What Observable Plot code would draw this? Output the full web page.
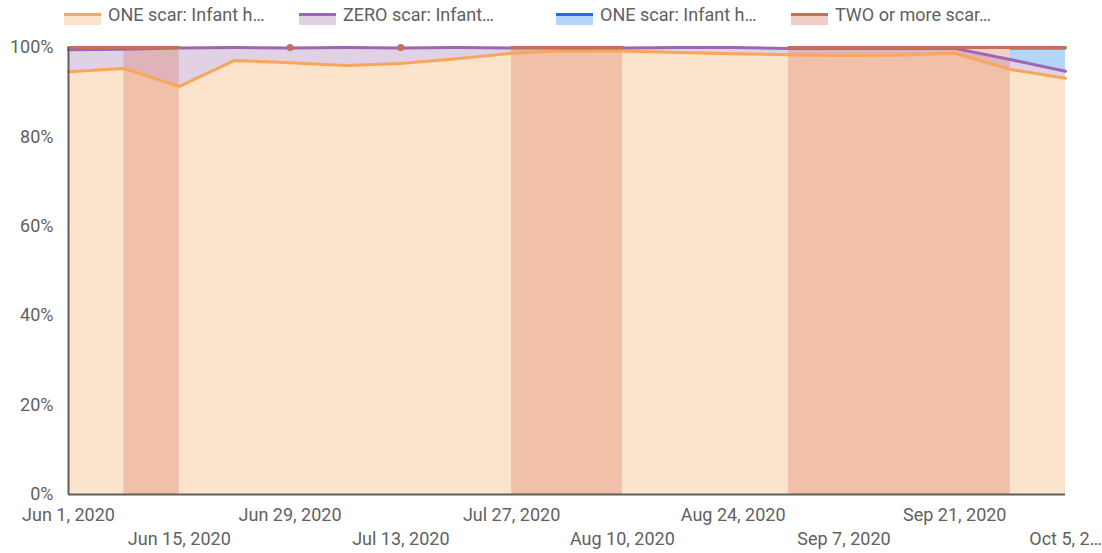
<!DOCTYPE html>
<html><head><meta charset="utf-8">
<script src="https://cdn.jsdelivr.net/npm/d3@7"></script>
<script src="https://cdn.jsdelivr.net/npm/@observablehq/plot@0.6"></script>
<style>
body{margin:0;background:#fff;font-family:Roboto, "Noto Sans", sans-serif;}
#wrap{position:relative;width:1102px;height:553px;overflow:hidden;}
#legend{position:absolute;top:0;left:0;width:1102px;height:30px;}
.sw{position:absolute;top:13px;width:37px;height:9px;}
.lt{position:absolute;top:3px;font-size:18px;color:#616161;white-space:nowrap;line-height:24px;}
</style></head>
<body>
<div id="wrap"><div id="chart"></div><div id="legend"></div></div>
<script>
// ---- data (weekly) ----
const dates = ["2020-06-01","2020-06-08","2020-06-15","2020-06-22","2020-06-29","2020-07-06","2020-07-13","2020-07-20","2020-07-27","2020-08-03","2020-08-10","2020-08-17","2020-08-24","2020-08-31","2020-09-07","2020-09-14","2020-09-21","2020-09-28","2020-10-05"];
const oneScarA = [94.6, 95.3, 91.3, 97.1, 96.6, 96.0, 96.4, 97.5, 98.7, 99.3, 99.2, 98.9, 98.6, 98.4, 98.2, 98.3, 98.7, 95.1, 93.1];
const zeroScar = [4.9, 4.3, 8.6, 2.9, 3.3, 4.0, 3.5, 2.5, 1.2, 0.6, 0.7, 1.1, 1.4, 1.4, 1.6, 1.5, 1.1, 2.2, 1.6];
const oneScarB = [null, null, null, null, null, null, null, null, null, null, null, null, null, null, null, null, null, 2.5, 5.1];
const twoPlus = [0.5, 0.4, 0.1, null, 0.1, null, 0.1, null, 0.1, 0.1, 0.1, null, null, 0.2, 0.2, 0.2, 0.2, 0.2, 0.2];
const twoBandStart = ["2020-06-08","2020-07-27","2020-08-31"];
const twoBandEnd = ["2020-06-15","2020-08-10","2020-09-28"];
const seriesNames = ["ONE scar: Infant h…","ZERO scar: Infant…","ONE scar: Infant h…","TWO or more scar…"];
const lineColors = ["#F9A55A","#9B67AF","#1A6FE0","#C56F59"];
const fillColors = ["#FCE4CC","#E0D1E5","#B3D5FA","#F2CFC6"];
const yTicks = [0, 20, 40, 60, 80, 100];
const xTickDates = ["2020-06-01","2020-06-15","2020-06-29","2020-07-13","2020-07-27","2020-08-10","2020-08-24","2020-09-07","2020-09-21","2020-10-05"];
const xTickLabels = ["Jun 1, 2020","Jun 15, 2020","Jun 29, 2020","Jul 13, 2020","Jul 27, 2020","Aug 10, 2020","Aug 24, 2020","Sep 7, 2020","Sep 21, 2020","Oct 5, 2…"];

// ---- build table (100% stacked) ----
const rows = dates.map((d, i) => {
  const a = oneScarA[i], z = zeroScar[i], b = oneScarB[i], r = twoPlus[i];
  const tot = a + z + (b ?? 0) + (r ?? 0);
  const k = 100 / tot;
  const t1 = a * k, t2 = (a + z) * k, t3 = (a + z + (b ?? 0)) * k, t4 = 100;
  return {date: new Date(d), t1, t2, t3: b == null ? NaN : t3, t3base: t3,
          t4: r == null ? NaN : t4, hasR: r != null, i};
});
const isolatedRed = rows.filter((d, i) => d.hasR && !(rows[i-1]?.hasR) && !(rows[i+1]?.hasR));
const bands = twoBandStart.map((s, i) => ({x1: new Date(s), x2: new Date(twoBandEnd[i])}));
const xTicks = xTickDates.map((d, i) => ({date: new Date(d), label: xTickLabels[i], row: i % 2}));

const chart = Plot.plot({
  width: 1102, height: 553,
  marginLeft: 68, marginRight: 37, marginTop: 47, marginBottom: 59,
  style: {fontFamily: "Roboto, sans-serif", fontSize: "18px", background: "#fff"},
  x: {type: "utc", domain: [new Date(dates[0]), new Date(dates[dates.length-1])], axis: null},
  y: {domain: [0, 100], axis: null},
  marks: [
    Plot.areaY(rows, {x: "date", y1: 0, y2: "t1", fill: fillColors[0], curve: "linear"}),
    Plot.areaY(rows, {x: "date", y1: "t1", y2: "t2", fill: fillColors[1], curve: "linear"}),
    Plot.areaY(rows, {x: "date", y1: "t2", y2: "t3", fill: fillColors[2], curve: "linear"}),
    Plot.areaY(rows, {x: "date", y1: d => d.hasR ? d.t3base : NaN, y2: "t4", fill: fillColors[3], curve: "linear"}),
    Plot.rect(bands, {x1: "x1", x2: "x2", y1: 0, y2: 100, fill: "rgb(222,137,117)", fillOpacity: 0.4}),
    Plot.lineY(rows, {x: "date", y: "t1", stroke: lineColors[0], strokeWidth: 3}),
    Plot.lineY(rows, {x: "date", y: "t2", stroke: lineColors[1], strokeWidth: 3}),
    Plot.lineY(rows, {x: "date", y: "t3", stroke: lineColors[2], strokeWidth: 2}),
    Plot.lineY(rows, {x: "date", y: "t4", stroke: lineColors[3], strokeWidth: 3}),
    Plot.dot(isolatedRed, {x: "date", y: "t4", r: 3.5, fill: lineColors[3], stroke: "none"}),
    Plot.ruleX([new Date(dates[0])], {y1: 0, y2: 100, stroke: "#5f5f5f", strokeWidth: 2}),
    Plot.ruleY([0], {stroke: "#5f5f5f", strokeWidth: 2}),
    Plot.axisY({ticks: yTicks, tickSize: 0, tickPadding: 15, tickFormat: d => d + "%", fontSize: 18, fill: "#616161", textAnchor: "end"}),
    Plot.text(xTicks.filter(d => d.row === 0), {x: "date", text: "label", frameAnchor: "bottom", dy: 26, fontSize: 18, fill: "#616161"}),
    Plot.text(xTicks.filter(d => d.row === 1), {x: "date", text: "label", frameAnchor: "bottom", dy: 50, fontSize: 18, fill: "#616161"})
  ]
});
document.getElementById("chart").appendChild(chart);

// ---- legend ----
const legendX = [64, 299, 556, 791];
const leg = document.getElementById("legend");
seriesNames.forEach((name, i) => {
  const sw = document.createElement("div");
  sw.className = "sw";
  sw.style.left = legendX[i] + "px";
  sw.style.borderTop = "3px solid " + lineColors[i];
  sw.style.background = fillColors[i];
  leg.appendChild(sw);
  const t = document.createElement("div");
  t.className = "lt";
  t.style.left = (legendX[i] + 44) + "px";
  t.textContent = name;
  leg.appendChild(t);
});
</script>
</body></html>
